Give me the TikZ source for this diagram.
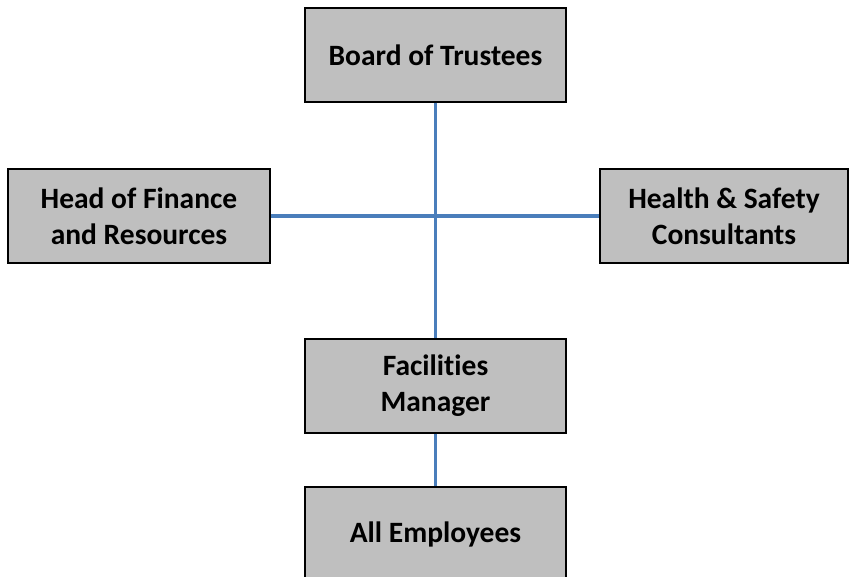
\documentclass[tikz,border=0pt]{standalone}
\usepackage{fontspec}
\setmainfont{Carlito}[Ligatures={NoCommon}]
\definecolor{boxgray}{RGB}{191,191,191}
\definecolor{linkblue}{RGB}{74,126,187}
\tikzset{
  orgbox/.style={draw=black, line width=1.3pt, fill=boxgray, minimum width=261pt, minimum height=94pt, inner sep=0pt, align=center, font=\fontsize{29.5}{36}\selectfont\bfseries},
  link/.style={draw=linkblue, line width=3.8pt}
}
\begin{document}
\begin{tikzpicture}[x=1pt,y=-1pt]
\useasboundingbox (0,0) rectangle (849,577);
\fill[white] (0,0) rectangle (849,577);
\node[orgbox] (board) at (435.5,55) {Board of Trustees};
\node[orgbox, minimum width=262pt] (finance) at (139,216) {Head of Finance\\and Resources};
\node[orgbox, minimum width=248pt] (health) at (724,216) {Health \& Safety\\Consultants};
\node[orgbox] (fac) at (435.5,386) {Facilities\\Manager};
\node[orgbox] (all) at (435.5,534) {All Employees};
\draw[link] (board.south) -- (fac.north);
\draw[link] (finance.east) -- (health.west);
\draw[link] (fac.south) -- (all.north);
\end{tikzpicture}
\end{document}
